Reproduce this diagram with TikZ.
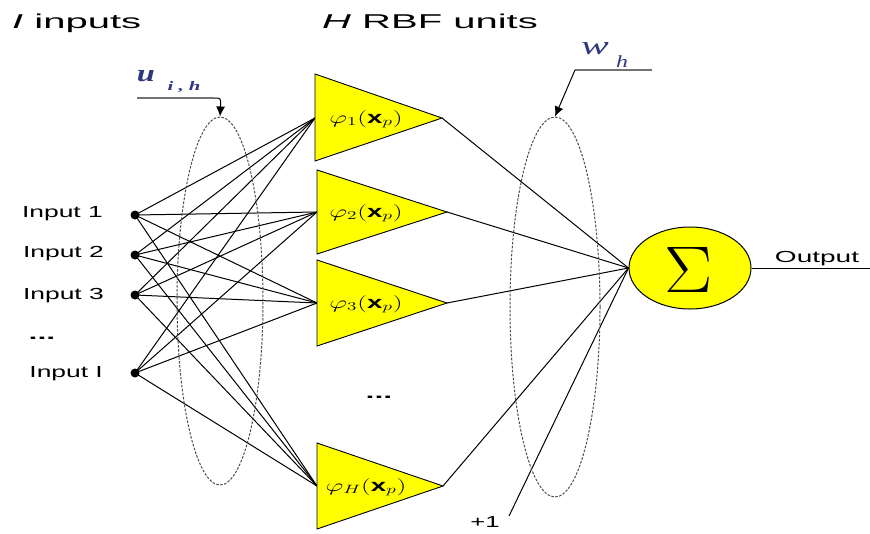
\documentclass[tikz,border=0pt]{standalone}
\usepackage{fontspec}
\setmainfont{Liberation Sans}
\newfontfamily\serifface{Liberation Serif}
\usepackage{amsmath}
\usepackage{graphicx}
\usetikzlibrary{arrows.meta,shapes.geometric}
\definecolor{triyellow}{RGB}{255,255,0}
\definecolor{lblue}{RGB}{45,55,125}
\newcommand{\sx}[2]{\scalebox{#1}[1]{#2}}
\begin{document}
\begin{tikzpicture}[x=1pt,y=-1pt,
  wire/.style={black, line width=1pt},
  tri/.style={draw=black, fill=triyellow, line width=0.9pt, line join=miter},
  indot/.style={circle, fill=black, inner sep=0pt, minimum size=9pt},
  grp/.style={draw=black!70, dash pattern=on 2.5pt off 1.5pt, line width=1pt, ellipse, inner sep=0pt},
  title/.style={inner sep=0pt, anchor=base west, font=\fontsize{20}{20}\selectfont},
  inlbl/.style={inner sep=0pt, anchor=east, font=\fontsize{16}{16}\selectfont},
  trilbl/.style={inner sep=0pt, font=\fontsize{17.28}{17.28}\selectfont},
  small/.style={inner sep=0pt, font=\fontsize{16}{16}\selectfont},
  pointer/.style={draw=black!55, line width=1.4pt},
  arrowline/.style={black, line width=1pt, -{Latex[length=10pt,width=9pt]}},
  wlbl/.style={inner sep=0pt, text=lblue}
]
\useasboundingbox (0,0) rectangle (870,533);

% titles
\node[title] (tin) at (12,28) {\sx{2}{\textit{I} inputs}};
\node[title] (trbf) at (322,28) {\sx{2}{\textit{H} RBF units}};

% inputs
\node[indot] (i1) at (135,215) {};
\node[indot] (i2) at (135,255) {};
\node[indot] (i3) at (135,295) {};
\node[indot] (iI) at (135,373) {};
\node[inlbl] (l1) at (103,214) {\sx{1.65}{Input 1}};
\node[inlbl] (l2) at (104,254) {\sx{1.65}{Input 2}};
\node[inlbl] (l3) at (104,296) {\sx{1.65}{Input 3}};
\node[inlbl] (lI) at (103,374) {\sx{1.65}{Input I}};
\node[small] (ldots) at (42,338) {\sx{2}{\textbf{...}}};

% triangle anchor coordinates
\coordinate (t1in) at (315,118);
\coordinate (t2in) at (317,212);
\coordinate (t3in) at (317,303);
\coordinate (tHin) at (317,486);
\coordinate (t1out) at (442,118);
\coordinate (t2out) at (447,212);
\coordinate (t3out) at (447,303);
\coordinate (tHout) at (443,486);

% input-to-RBF connections
\foreach \i in {i1,i2,i3,iI}{
  \foreach \t in {t1in,t2in,t3in,tHin}{
    \draw[wire] (\i.center) -- (\t);
  }
}

% sum node
\node[draw=black, line width=1pt, fill=triyellow, ellipse, minimum width=122pt, minimum height=82pt, inner sep=0pt] (sum) at (690,268) {};
\node[inner sep=0pt, font=\fontsize{24.88}{24.88}\selectfont] (sigma) at (689,270) {\scalebox{2.9}[2.65]{$\Sigma$}};

% RBF-to-sum connections
\foreach \t in {t1out,t2out,t3out,tHout}{
  \draw[wire] (\t) -- (sum.west);
}
\node[small] (plus1) at (485,522) {\sx{1.6}{+1}};
\coordinate (biasend) at (509,516);
\draw[wire] (biasend) -- (sum.west);

% output
\coordinate (outend) at (870,268);
\draw[wire] (sum.east) -- (outend);
\node[small] (outlbl) at (817,259) {\sx{1.75}{Output}};

% dashed groups
\node[grp, minimum width=86pt, minimum height=368pt] (e1) at (220,301) {};
\node[grp, minimum width=90pt, minimum height=380pt] (e2) at (555,307) {};

% triangles
\draw[tri] (315,74) -- (t1out) -- (315,161) -- cycle;
\draw[tri] (317,170) -- (t2out) -- (317,254) -- cycle;
\draw[tri] (317,260) -- (t3out) -- (317,346) -- cycle;
\draw[tri] (317,443) -- (tHout) -- (317,529) -- cycle;
\node[trilbl] (p1) at (366,119) {\sx{1.6}{$\varphi_1\!\left(\mathbf{x}_p\right)$}};
\node[trilbl] (p2) at (366,213) {\sx{1.6}{$\varphi_2\!\left(\mathbf{x}_p\right)$}};
\node[trilbl] (p3) at (366,304) {\sx{1.6}{$\varphi_3\!\left(\mathbf{x}_p\right)$}};
\node[trilbl] (pH) at (366,487) {\sx{1.6}{$\varphi_H\!\left(\mathbf{x}_p\right)$}};
\node[small] (tdots) at (379,397) {\sx{2}{\textbf{...}}};

% u_{i,h} label and pointer
\node[wlbl, font=\serifface\bfseries\itshape\fontsize{24}{24}\selectfont] (ulbl) at (146,76) {\sx{1.35}{u}};
\node[wlbl, font=\serifface\bfseries\itshape\fontsize{13}{13}\selectfont] (usub) at (184,87) {\sx{1.6}{i , h}};
\coordinate (ua) at (137,98);
\coordinate (ub) at (214,98);
\draw[pointer] (ua) -- (ub);
\draw[arrowline] (ub) .. controls (221,98) .. (e1.north);

% w_h label and pointer
\node[wlbl, font=\serifface\itshape\fontsize{26}{26}\selectfont] (wlbl) at (595,49) {\sx{1.6}{w}};
\node[wlbl, font=\serifface\itshape\fontsize{17}{17}\selectfont] (wsub) at (622,62) {\sx{1.4}{h}};
\coordinate (wa) at (652,70);
\coordinate (wb) at (575,70);
\draw[pointer] (wa) -- (wb);
\draw[arrowline] (wb) -- (e2.north);
\end{tikzpicture}
\end{document}
